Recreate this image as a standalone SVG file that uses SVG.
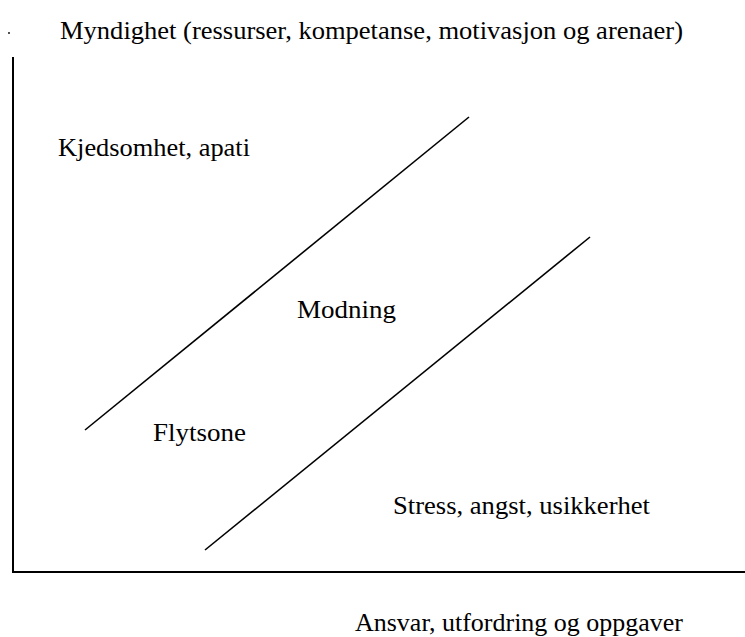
<svg xmlns="http://www.w3.org/2000/svg" width="745" height="637" viewBox="0 0 745 637">
<style>
  text { font-family: "Liberation Serif", "Times New Roman", serif; font-size: 26px; fill: #000; }
  .ax { stroke: #000; stroke-width: 2; fill: none; }
  .ln { stroke: #000; stroke-width: 1.6; fill: none; }
</style>
<rect width="745" height="637" fill="#fff"/>
<g id="axes">
  <circle cx="9" cy="33" r="0.9" fill="#000"/>
  <polyline class="ax" points="13,57 13,572 745,572"/>
</g>
<g id="connectors">
  <line class="ln" x1="85" y1="430" x2="469" y2="117"/>
  <line class="ln" x1="205" y1="550" x2="590" y2="237"/>
</g>
<g id="label-y"><text x="60" y="39" textLength="623" lengthAdjust="spacingAndGlyphs">Myndighet (ressurser, kompetanse, motivasjon og arenaer)</text></g>
<g id="label-boredom"><text x="58" y="156" textLength="192" lengthAdjust="spacingAndGlyphs">Kjedsomhet, apati</text></g>
<g id="label-maturing"><text x="297" y="318" textLength="99" lengthAdjust="spacingAndGlyphs">Modning</text></g>
<g id="label-flow"><text x="153" y="441" textLength="93" lengthAdjust="spacingAndGlyphs">Flytsone</text></g>
<g id="label-stress"><text x="393" y="514" textLength="257" lengthAdjust="spacingAndGlyphs">Stress, angst, usikkerhet</text></g>
<g id="label-x"><text x="355" y="631" textLength="328" lengthAdjust="spacingAndGlyphs">Ansvar, utfordring og oppgaver</text></g>
</svg>
